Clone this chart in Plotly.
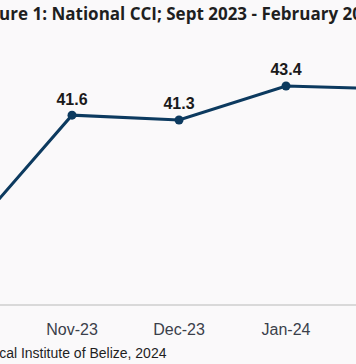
import plotly.graph_objects as go

months = ["Oct-23", "Nov-23", "Dec-23", "Jan-24", "Feb-24"]
cci = [34.0, 41.6, 41.3, 43.4, 43.2]
labels = ["34.0", "41.6", "41.3", "43.4", "43.2"]

title_text = "Figure 1: National CCI; Sept 2023 - February 2024"
source_text = "Source: Statistical Institute of Belize, 2024"

navy = "#0C3A5F"
bg = "#FAF9FA"

fig = go.Figure()
fig.add_trace(go.Scatter(
    x=months, y=cci, mode="lines+markers+text",
    line=dict(color=navy, width=3),
    marker=dict(color=navy, size=9),
    text=["<b>" + t + "</b>" for t in labels], textposition="top center",
    textfont=dict(family="Liberation Sans, Arial", size=16, color="#1A1A1A"),
    cliponaxis=True,
    hoverinfo="skip",
))

fig.update_layout(
    width=356, height=364,
    margin=dict(l=0, r=0, t=40, b=60),
    paper_bgcolor=bg, plot_bgcolor=bg,
    showlegend=False,
    xaxis=dict(
        type="category", range=[0.327, 3.654],
        showline=True, linecolor="#D9D9D9", linewidth=2,
        showgrid=False, zeroline=False,
        ticks="outside", ticklen=10, tickcolor="rgba(0,0,0,0)",
        tickfont=dict(family="Liberation Sans, Arial", size=16, color="#3A3F4A"),
    ),
    yaxis=dict(range=[29.94, 46.24], visible=False, showgrid=False, zeroline=False),
    annotations=[
        dict(text="<b>" + title_text + "</b>", xref="paper", yref="paper",
             x=0.5, y=1, yshift=40 - 13, xanchor="center", yanchor="middle",
             showarrow=False,
             font=dict(family="Open Sans", size=17, color="#1F1F1F")),
        dict(text=source_text, xref="paper", yref="paper",
             x=169 / 356, y=0, yshift=-49, xanchor="right", yanchor="middle",
             showarrow=False,
             font=dict(family="Liberation Sans, Arial", size=14, color="#1F1F1F")),
    ],
)

fig.write_html("out.html", config={"displayModeBar": False},
               post_script="document.body.style.margin='0';document.body.style.overflow='hidden';")
